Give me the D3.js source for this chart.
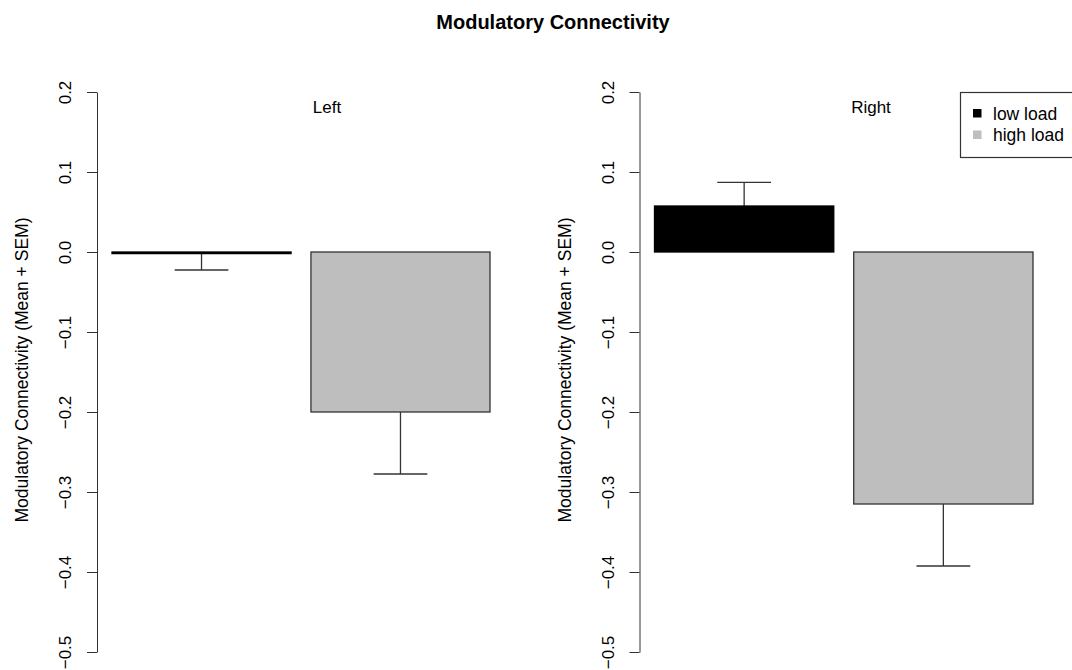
<!DOCTYPE html>
<html>
<head>
<meta charset="utf-8">
<script src="https://cdn.jsdelivr.net/npm/d3@7"></script>
<style>
  html, body { margin: 0; padding: 0; background: #fff; }
  svg { display: block; font-family: "Liberation Sans", Arial, Helvetica, sans-serif; }
</style>
</head>
<body>
<svg id="chart" width="1072" height="670"></svg>
<script>
// Conditions (load levels) and hemispheres
const loads = ["low load", "high load"];
const loadColors = ["#000000", "#bebebe"];
const panels = ["Left", "Right"];

// Mean modulatory connectivity per hemisphere, ordered as in `loads`
const meanLeft = [-0.002, -0.200];
const meanRight = [0.0575, -0.315];
// Standard error of the mean
const semLeft = [0.0205, 0.0775];
const semRight = [0.0295, 0.0775];

// Axis ticks
const yTicks = [-0.5, -0.4, -0.3, -0.2, -0.1, 0.0, 0.1, 0.2];

const title = "Modulatory Connectivity";
const yLabel = "Modulatory Connectivity (Mean + SEM)";

const svg = d3.select("#chart");
const W = 1072, H = 670;
const lineColor = "#333";

svg.append("text")
  .attr("x", 553).attr("y", 29)
  .attr("text-anchor", "middle")
  .attr("font-size", 20).attr("font-weight", "bold")
  .text(title);

const y = d3.scaleLinear().domain([-0.5, 0.2]).range([652, 92]);

const panelData = [
  { name: panels[0], means: meanLeft, sems: semLeft, axisX: 97, barRange: [112, 490], labelX: 327, legend: false },
  { name: panels[1], means: meanRight, sems: semRight, axisX: 639.5, barRange: [654.5, 1033], labelX: 871, legend: true }
];

panelData.forEach(p => {
  const g = svg.append("g");

  const x = d3.scaleBand().domain(loads).range(p.barRange).paddingInner(0.1).paddingOuter(0);

  // y axis
  const axis = d3.axisLeft(y)
    .tickValues(yTicks)
    .tickFormat(d3.format(".1f"))
    .tickSize(10)
    .tickSizeOuter(0);
  const ag = g.append("g")
    .attr("transform", `translate(${p.axisX},0)`)
    .call(axis);
  ag.select(".domain").attr("stroke", lineColor);
  ag.selectAll(".tick line").attr("stroke", lineColor);
  ag.selectAll(".tick text")
    .attr("x", null).attr("dy", null)
    .attr("fill", "#000")
    .attr("font-size", 17)
    .attr("font-family", "'Liberation Sans', Arial, sans-serif")
    .attr("text-anchor", "middle")
    .attr("transform", "translate(-26,0) rotate(-90)");

  // y axis title
  g.append("text")
    .attr("transform", `translate(${p.axisX - 69},370) rotate(-90)`)
    .attr("text-anchor", "middle")
    .attr("font-size", 17.5)
    .text(yLabel);

  // panel label
  g.append("text")
    .attr("x", p.labelX).attr("y", 113)
    .attr("text-anchor", "middle")
    .attr("font-size", 17)
    .text(p.name);

  const rows = loads.map((l, i) => ({ load: l, mean: p.means[i], sem: p.sems[i], color: loadColors[i] }));

  // error bars, extending away from zero
  const capW = x.bandwidth() * 0.3;
  rows.forEach(r => {
    const end = r.mean + Math.sign(r.mean) * r.sem;
    const cx = x(r.load) + x.bandwidth() / 2;
    g.append("line")
      .attr("x1", cx).attr("x2", cx)
      .attr("y1", y(r.mean)).attr("y2", y(end))
      .attr("stroke", lineColor).attr("stroke-width", 1.3);
    g.append("line")
      .attr("x1", cx - capW / 2).attr("x2", cx + capW / 2)
      .attr("y1", y(end)).attr("y2", y(end))
      .attr("stroke", lineColor).attr("stroke-width", 1.3);
  });

  // bars
  g.selectAll("rect.bar")
    .data(rows)
    .join("rect")
    .attr("class", "bar")
    .attr("x", d => x(d.load))
    .attr("width", x.bandwidth())
    .attr("y", d => y(Math.max(0, d.mean)))
    .attr("height", d => Math.abs(y(d.mean) - y(0)))
    .attr("fill", d => d.color)
    .attr("stroke", d => d.color === "#000000" ? "#000" : lineColor)
    .attr("stroke-width", 1.3);

  if (p.legend) {
    const lg = g.append("g");
    lg.append("rect")
      .attr("x", 960.5).attr("y", 92.5)
      .attr("width", 140).attr("height", 65)
      .attr("fill", "#fff")
      .attr("stroke", lineColor).attr("stroke-width", 1.2);
    loads.forEach((l, i) => {
      const by = 119.5 + i * 21.5;
      lg.append("rect")
        .attr("x", 973).attr("y", by - 10.5)
        .attr("width", 8.5).attr("height", 8.5)
        .attr("fill", loadColors[i]);
      lg.append("text")
        .attr("x", 993).attr("y", by)
        .attr("font-size", 17.5)
        .text(l);
    });
  }
});
</script>
</body>
</html>
